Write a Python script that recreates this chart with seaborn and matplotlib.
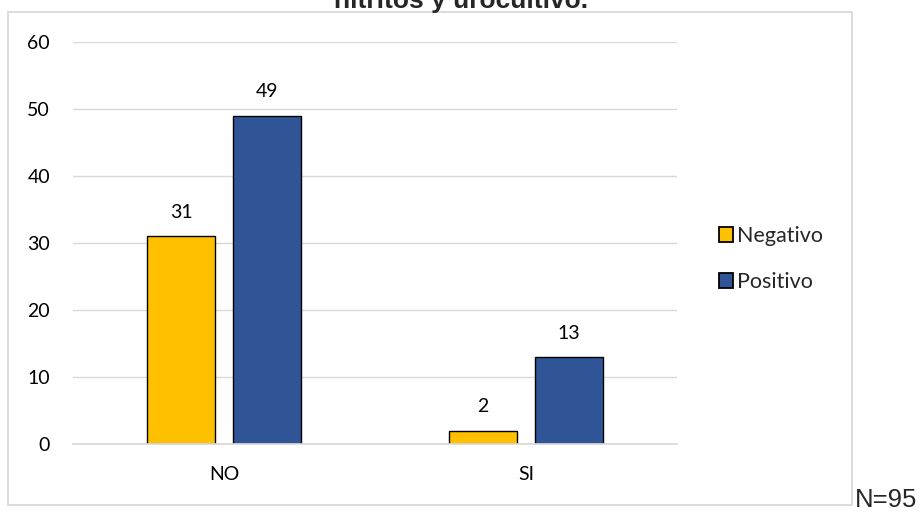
import matplotlib
matplotlib.use("Agg")
import matplotlib.pyplot as plt
import seaborn as sns
import pandas as pd
from matplotlib.patches import Rectangle

categories = ["NO", "SI"]
series = ["Negativo", "Positivo"]
negativo = [31, 2]
positivo = [49, 13]
title_text = "nitritos y urocultivo."
note_text = "N=95"

df = pd.DataFrame({
    "cat": categories * 2,
    "serie": [series[0]] * 2 + [series[1]] * 2,
    "val": negativo + positivo,
})

sns.set_theme(style="white")
plt.rcParams["font.family"] = ["Lato", "DejaVu Sans"]

W, H = 920, 512
fig = plt.figure(figsize=(W / 100, H / 100), dpi=100)

# outer chart border
fig.patches.append(Rectangle((8 / W, 1 - 505 / H), (852 - 8) / W, (505 - 12) / H,
                             transform=fig.transFigure, fill=False,
                             edgecolor="#D9D9D9", linewidth=1.3))

ax = fig.add_axes([73 / W, 1 - 444 / H, (677 - 73) / W, (444 - 42) / H])
palette = {"Negativo": "#FFC000", "Positivo": "#2F5597"}
sns.barplot(data=df, x="cat", y="val", hue="serie", order=categories,
            hue_order=series, palette=palette, width=0.57, gap=0.21,
            edgecolor="black", linewidth=1.0, saturation=1, ax=ax, legend=False)

ax.set_xlim(-0.5, 1.5)
ax.set_ylim(0, 60)
ax.set_yticks(range(0, 61, 10))
ax.set_xlabel("")
ax.set_ylabel("")
ax.grid(axis="y", color="#D9D9D9", linewidth=1)
ax.set_axisbelow(True)
for s in ["top", "right", "left"]:
    ax.spines[s].set_visible(False)
ax.spines["bottom"].set_color("#D9D9D9")
ax.tick_params(axis="y", length=0, pad=16.5, labelsize=14, labelcolor="#000000")
ax.tick_params(axis="x", length=0, pad=15.5, labelsize=14, labelcolor="#000000")

for cont in ax.containers:
    ax.bar_label(cont, padding=11, fontsize=14, color="#000000")

handles = [Rectangle((0, 0), 1, 1, facecolor=palette[s], edgecolor="black", linewidth=1.3)
           for s in series]
fig.legend(handles, series, loc="center left",
           bbox_to_anchor=(708 / W, 1 - 259 / H), frameon=False,
           fontsize=15.5, handlelength=0.65, handleheight=0.65,
           handletextpad=0.2, labelspacing=1.2, borderpad=0)

fig.text(461.5 / W, 1 - 8 / H, title_text, ha="center", va="baseline",
         fontsize=19, fontweight="bold", family=["Liberation Sans", "DejaVu Sans"])
fig.text(855 / W, 1 - 507 / H, note_text, ha="left", va="baseline",
         fontsize=18.5, family=["Liberation Sans", "DejaVu Sans"])

fig.savefig("out.png", dpi=100)
